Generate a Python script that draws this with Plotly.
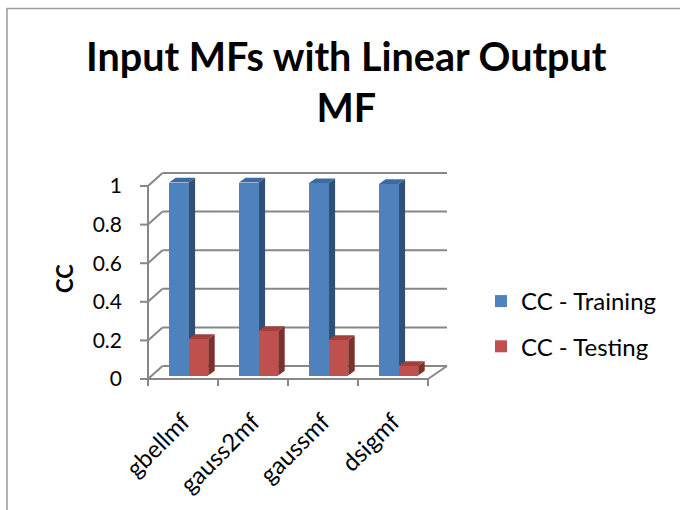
import plotly.graph_objects as go

# ---- data ----
categories = ["gbellmf", "gauss2mf", "gaussmf", "dsigmf"]
cc_training = [1.0, 1.0, 0.997, 0.992]
cc_testing = [0.189, 0.231, 0.184, 0.049]
series_names = ["CC - Training", "CC - Testing"]
y_ticks = [0, 0.2, 0.4, 0.6, 0.8, 1]
y_tick_text = ["0", "0.2", "0.4", "0.6", "0.8", "1"]
chart_title = "Input MFs with Linear Output<br>MF"
y_title = "CC"

# ---- styling ----
FONT = "Lato"
FRONT = ["#4F81BD", "#C0504D"]
TOP = ["#3E6AA3", "#A2403D"]
SIDE = ["#2F5079", "#7F302E"]
GRID = "#878787"

# pixel scale of the plot (px per category / px per unit value)
PX_X = 70.0
PX_Y = 193.0
# depth of the walls / floor (in axis units)
WALL_DX_L = 14.5 / PX_X
WALL_DX_R = 19.0 / PX_X
WALL_DY = 13.0 / PX_Y
# bar geometry
BAR_W = 0.28
BAR_OFF = [-0.2, 0.08]
BAR_BASE = 3.5 / PX_Y
BAR_DX = 6.5 / PX_X
BAR_DY = 4.7 / PX_Y

X_LO, X_HI = -57 / PX_X, 277 / PX_X
Y_LO, Y_HI = -13 / PX_Y, 214 / PX_Y
M_L, M_R, M_T, M_B = 126, 220, 165, 118
W, H = 680, 510
n_cat = len(categories)
x_first, x_last = -0.5, n_cat - 0.5

pw, ph = W - M_L - M_R, H - M_T - M_B


def paper_x(px):
    return (px - M_L) / pw


def paper_y(py):
    return (H - M_B - py) / ph


shapes = []


def line(x0, y0, x1, y1, color=GRID, width=2):
    shapes.append(dict(type="line", xref="x", yref="y", x0=x0, y0=y0, x1=x1, y1=y1,
                       line=dict(color=color, width=width), layer="below"))


def poly(pts, color):
    path = "M " + " L ".join(f"{px},{py}" for px, py in pts) + " Z"
    shapes.append(dict(type="path", xref="x", yref="y", path=path,
                       fillcolor=color, line=dict(width=0), layer="below"))


# back wall gridlines and left wall diagonals
for v in y_ticks:
    line(x_first + WALL_DX_L, v + WALL_DY, x_last + WALL_DX_R, v + WALL_DY)
    line(x_first, v, x_first + WALL_DX_L, v + WALL_DY)
    line(x_first - 8 / PX_X, v, x_first, v)  # y tick

# front axes and floor edge
line(x_first, 0, x_first, y_ticks[-1])
line(x_first, 0, x_last, 0)
line(x_last, 0, x_last + WALL_DX_R, WALL_DY)
for k in range(n_cat + 1):
    line(x_first + k, 0, x_first + k, -7 / PX_Y)  # category ticks

# side and top faces of the columns
for s, vals in enumerate([cc_training, cc_testing]):
    for i, v in enumerate(vals):
        x0 = i + BAR_OFF[s]
        x1 = x0 + BAR_W
        yb = BAR_BASE
        yt = BAR_BASE + v
        poly([(x1, yb), (x1, yt), (x1 + BAR_DX, yt + BAR_DY), (x1 + BAR_DX, yb + BAR_DY)], SIDE[s])
        poly([(x0, yt), (x1, yt), (x1 + BAR_DX, yt + BAR_DY), (x0 + BAR_DX, yt + BAR_DY)], TOP[s])

# outer chart border
shapes.append(dict(type="rect", xref="paper", yref="paper",
                   x0=paper_x(7), x1=paper_x(W + 10), y0=paper_y(8.5), y1=paper_y(H + 10),
                   line=dict(color="#9A9A9A", width=1.5), fillcolor="rgba(0,0,0,0)", layer="below"))

fig = go.Figure()
for s, vals in enumerate([cc_training, cc_testing]):
    fig.add_trace(go.Bar(
        x=list(range(n_cat)), y=vals, base=BAR_BASE, width=BAR_W, offset=BAR_OFF[s],
        name=series_names[s], legendgroup=f"g{s}",
        marker=dict(color=FRONT[s], line=dict(width=0)),
        hoverinfo="skip",
    ))

fig.update_layout(
    width=W, height=H,
    margin=dict(l=M_L, r=M_R, t=M_T, b=M_B, autoexpand=False),
    paper_bgcolor="white", plot_bgcolor="white",
    font=dict(family=FONT, color="black"),
    showlegend=True,
    legend=dict(x=481 / W, y=1 - 279 / H, xanchor="left", yanchor="top",
                xref="container", yref="container",
                font=dict(family=FONT, size=24, color="black"),
                traceorder="grouped", tracegroupgap=11, bgcolor="rgba(0,0,0,0)"),
    bargap=0,
    shapes=shapes,
    annotations=[dict(text=f"<b>{chart_title}</b>", xref="paper", yref="paper",
                      x=paper_x(346), y=paper_y(30), xanchor="center", yanchor="top",
                      showarrow=False, align="center",
                      font=dict(family=FONT, size=39.5, color="black"))],
)
fig.update_xaxes(range=[X_LO, X_HI], tickvals=list(range(n_cat)), ticktext=categories,
                 tickangle=-45, ticks="", showgrid=False, zeroline=False, showline=False,
                 ticklabelstandoff=10,
                 tickfont=dict(family=FONT, size=24, color="black"), fixedrange=True)
fig.update_yaxes(range=[Y_LO, Y_HI], tickvals=y_ticks, ticktext=y_tick_text,
                 ticks="", showgrid=False, zeroline=False, showline=False,
                 ticklabelstandoff=3,
                 tickfont=dict(family=FONT, size=21, color="black"),
                 title=dict(text=f"<b>{y_title}</b>", font=dict(family=FONT, size=22, color="black"),
                            standoff=12),
                 fixedrange=True)

fig.write_html("out.html")
